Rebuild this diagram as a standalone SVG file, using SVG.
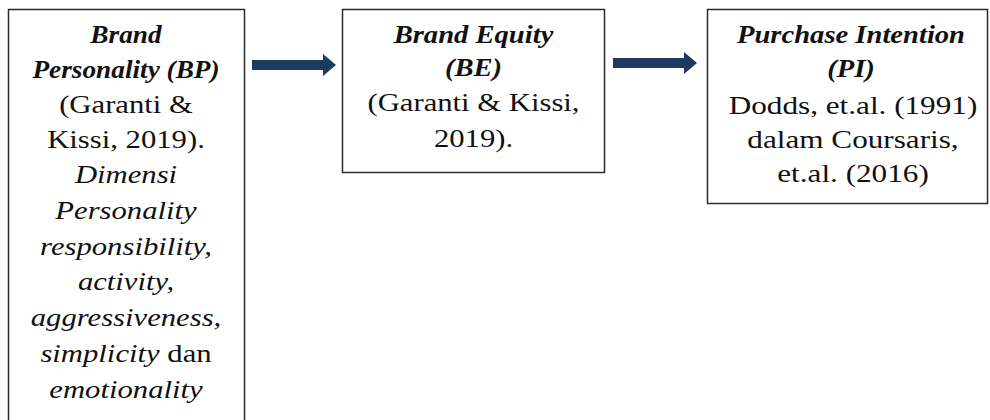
<svg xmlns="http://www.w3.org/2000/svg" width="990" height="420" viewBox="0 0 990 420">
  <style>
    .box { fill: #ffffff; stroke: #2b2b2b; stroke-width: 1.5; }
    .txt { font-family: "Liberation Serif", "Times New Roman", serif; font-size: 26px; fill: #111111; text-anchor: middle; }
    .hd { font-weight: bold; font-style: italic; }
    .it { font-style: italic; }
    .arrow { fill: #1f3a60; }
  </style>
  <rect width="990" height="420" fill="#ffffff"/>

  <g id="node-bp">
    <rect class="box" x="8.5" y="9.5" width="236" height="430"/>
    <g transform="translate(126,0) scale(1.05,1)">
      <text class="txt hd" x="0" y="43">Brand</text>
      <text class="txt hd" x="0" y="78">Personality (BP)</text>
    </g>
    <g transform="translate(126,0) scale(1.18,1)">
      <text class="txt" x="0" y="113">(Garanti &amp;</text>
      <text class="txt" x="0" y="148">Kissi, 2019).</text>
      <text class="txt it" x="0" y="183.5">Dimensi</text>
      <text class="txt it" x="0" y="219">Personality</text>
      <text class="txt it" x="0" y="255">responsibility,</text>
      <text class="txt it" x="0" y="290">activity,</text>
      <text class="txt it" x="0" y="326">aggressiveness,</text>
      <text class="txt" x="0" y="362.5"><tspan class="it">simplicity</tspan> dan</text>
      <text class="txt it" x="0" y="398">emotionality</text>
    </g>
  </g>

  <g id="node-be">
    <rect class="box" x="342.5" y="9.5" width="262" height="163"/>
    <g transform="translate(473.5,0) scale(1.1,1)">
      <text class="txt hd" x="0" y="43">Brand Equity</text>
      <text class="txt hd" x="0" y="76">(BE)</text>
    </g>
    <g transform="translate(473.5,0) scale(1.18,1)">
      <text class="txt" x="0" y="111">(Garanti &amp; Kissi,</text>
      <text class="txt" x="0" y="147">2019).</text>
    </g>
  </g>

  <g id="node-pi">
    <rect class="box" x="707.5" y="9.5" width="280" height="194"/>
    <g transform="translate(851,0) scale(1.1,1)">
      <text class="txt hd" x="0" y="43">Purchase Intention</text>
      <text class="txt hd" x="0" y="77">(PI)</text>
    </g>
    <g transform="translate(853,0) scale(1.2,1)">
      <text class="txt" x="0" y="114.5">Dodds, et.al. (1991)</text>
      <text class="txt" x="0" y="148.5">dalam Coursaris,</text>
      <text class="txt" x="0" y="182">et.al. (2016)</text>
    </g>
  </g>

  <g id="connectors">
    <path class="arrow" d="M252,60 H323 V54 L336,65 L323,76 V70 H252 Z"/>
    <path class="arrow" d="M613,58 H684 V52 L697,63 L684,74 V68 H613 Z"/>
  </g>
</svg>
